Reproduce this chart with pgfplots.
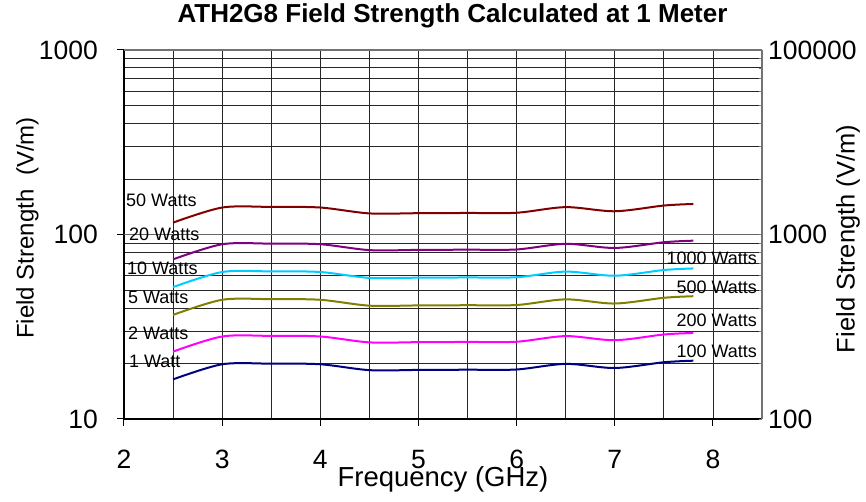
\documentclass[border=0pt]{standalone}
\usepackage{fontspec}
\setmainfont{Liberation Sans}
\usepackage{pgfplots}
\pgfplotsset{compat=1.18}

\definecolor{wone}{HTML}{000080}
\definecolor{wtwo}{HTML}{FF00FF}
\definecolor{wfive}{HTML}{808000}
\definecolor{wten}{HTML}{00CCFF}
\definecolor{wtwenty}{HTML}{800080}
\definecolor{wfifty}{HTML}{800000}

\newcommand{\tickfont}{\fontsize{26.5}{26.5}\selectfont}
\newcommand{\datfont}{\fontsize{18}{18}\selectfont}

\begin{document}
\begin{tikzpicture}
\useasboundingbox (-124pt,-83pt) rectangle (742pt,419pt);

\begin{axis}[
    at={(0,0)}, anchor=south west,
    scale only axis,
    width=638pt, height=369pt,
    xmin=2, xmax=8.5,
    ymode=log, ymin=10, ymax=1000,
    tick label style={font=\tickfont, inner sep=0pt},
    /pgf/number format/assume math mode=true,
    axis lines*=left,
    axis line style={black, line width=2pt},
    xtick={2,3,4,5,6,7,8},
    minor xtick={2.5,3.5,4.5,5.5,6.5,7.5},
    ytick={10,100,1000},
    yticklabels={10,100,1000},
    minor ytick={20,30,40,50,60,70,80,90,200,300,400,500,600,700,800,900},
    tick align=outside,
    major tick length=7pt,
    minor tick length=0pt,
    tick style={black, line width=1pt},
    xmajorgrids, xminorgrids, ymajorgrids, yminorgrids,
    grid style={black!85, line width=0.8pt},
    xticklabel style={yshift=-24pt},
    yticklabel style={xshift=-19pt},
    title={ATH2G8 Field Strength Calculated at 1 Meter},
    title style={at={(axis description cs:0.5149,1.0588)}, anchor=base,
        inner sep=0pt, font=\bfseries\fontsize{26}{26}\selectfont},
    xlabel={Frequency (GHz)},
    every axis x label/.style={at={(axis description cs:0.5,-0.1274)},
        anchor=north, inner sep=0pt, font=\fontsize{27.5}{27.5}\selectfont},
    ylabel={Field Strength\ \ (V/m)},
    every axis y label/.style={at={(axis description cs:-0.1513,0.5176)},
        rotate=90, anchor=center, inner sep=0pt,
        font=\fontsize{24}{24}\selectfont},
]

% major 100 V/m line is drawn grey and heavier
\addplot[black!60, line width=1.6pt] coordinates {(2,100) (8.5,100)};

% 1 Watt
\addplot[wone, line width=2pt, smooth] coordinates {
    (2.5,16.40) (3.0,19.80) (3.5,19.95) (4.0,19.80) (4.5,18.40) (5.0,18.45)
    (5.5,18.50) (6.0,18.55) (6.5,19.90) (7.0,18.90) (7.5,20.30) (7.8,20.70)
};
% 2 Watts
\addplot[wtwo, line width=2pt, smooth] coordinates {
    (2.5,23.19) (3.0,28.00) (3.5,28.21) (4.0,28.00) (4.5,26.02) (5.0,26.09)
    (5.5,26.16) (6.0,26.23) (6.5,28.14) (7.0,26.73) (7.5,28.71) (7.8,29.27)
};
% 5 Watts
\addplot[wfive, line width=2pt, smooth] coordinates {
    (2.5,36.67) (3.0,44.27) (3.5,44.61) (4.0,44.27) (4.5,41.14) (5.0,41.26)
    (5.5,41.37) (6.0,41.48) (6.5,44.50) (7.0,42.26) (7.5,45.39) (7.8,46.29)
};
% 10 Watts
\addplot[wten, line width=2pt, smooth] coordinates {
    (2.5,51.86) (3.0,62.61) (3.5,63.09) (4.0,62.61) (4.5,58.19) (5.0,58.34)
    (5.5,58.50) (6.0,58.66) (6.5,62.93) (7.0,59.77) (7.5,64.19) (7.8,65.46)
};
% 20 Watts
\addplot[wtwenty, line width=2pt, smooth] coordinates {
    (2.5,73.34) (3.0,88.55) (3.5,89.22) (4.0,88.55) (4.5,82.29) (5.0,82.51)
    (5.5,82.73) (6.0,82.96) (6.5,89.00) (7.0,84.52) (7.5,90.78) (7.8,92.57)
};
% 50 Watts
\addplot[wfifty, line width=2pt, smooth] coordinates {
    (2.5,115.97) (3.0,140.01) (3.5,141.07) (4.0,140.01) (4.5,130.11) (5.0,130.46)
    (5.5,130.82) (6.0,131.17) (6.5,140.71) (7.0,133.64) (7.5,143.54) (7.8,146.37)
};

% series labels, left side
\node[anchor=west, inner sep=0pt, font=\datfont] at (axis cs:2.02,153) {50 Watts};
\node[anchor=west, inner sep=0pt, font=\datfont] at (axis cs:2.05,100) {20 Watts};
\node[anchor=west, inner sep=0pt, font=\datfont] at (axis cs:2.03,65.4) {10 Watts};
\node[anchor=west, inner sep=0pt, font=\datfont] at (axis cs:2.04,45.5) {5 Watts};
\node[anchor=west, inner sep=0pt, font=\datfont] at (axis cs:2.04,29.0) {2 Watts};
\node[anchor=west, inner sep=0pt, font=\datfont] at (axis cs:2.05,20.6) {1 Watt};
% series labels, right side
\node[anchor=east, inner sep=0pt, font=\datfont] at (axis cs:8.45,74.6) {1000 Watts};
\node[anchor=east, inner sep=0pt, font=\datfont] at (axis cs:8.45,51.6) {500 Watts};
\node[anchor=east, inner sep=0pt, font=\datfont] at (axis cs:8.45,34.3) {200 Watts};
\node[anchor=east, inner sep=0pt, font=\datfont] at (axis cs:8.45,23.3) {100 Watts};
\end{axis}

% right hand scale (x100 power)
\begin{axis}[
    at={(0,0)}, anchor=south west,
    scale only axis,
    width=638pt, height=369pt,
    xmin=2, xmax=8.5,
    ymode=log, ymin=10, ymax=1000,
    tick label style={font=\tickfont, inner sep=0pt},
    axis x line*=top,
    axis y line*=right,
    axis line style={black!55, line width=1.4pt},
    xtick=\empty,
    ytick={10,100,1000},
    yticklabels={100,1000,100000},
    minor ytick={},
    major tick length=0pt,
    yticklabel style={xshift=6pt},
    ylabel={Field Strength (V/m)},
    every axis y label/.style={at={(axis description cs:1.1348,0.4878)},
        rotate=90, anchor=center, inner sep=0pt,
        font=\fontsize{25.5}{25.5}\selectfont},
]
\end{axis}
\end{tikzpicture}
\end{document}
